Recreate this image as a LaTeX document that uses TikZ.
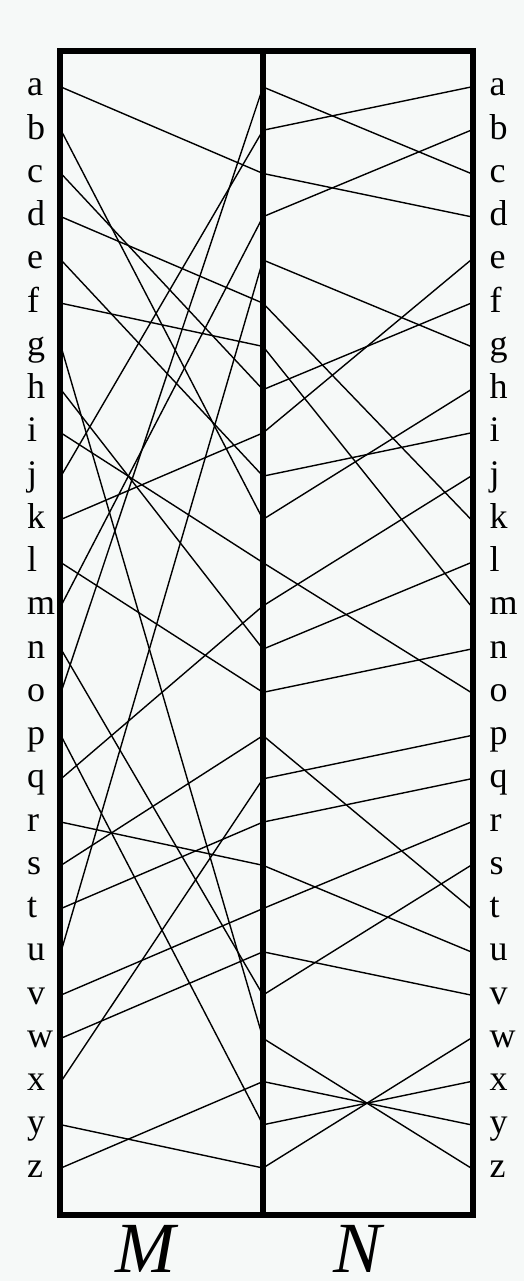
\documentclass[tikz,border=0pt]{standalone}
\usepackage{fontspec}
\setmainfont{Liberation Serif}
\definecolor{paper}{RGB}{246,249,248}

\begin{document}
\begin{tikzpicture}[x=1pt,y=-1pt,
  wire/.style={line width=1.4pt},
  boxline/.style={line width=5.5pt},
  letter/.style={anchor=base west,inner sep=0pt,font=\fontsize{36}{43}\selectfont},
  permname/.style={anchor=base,inner sep=0pt,font=\fontsize{72}{80}\selectfont\itshape}]
  % page and size
  \fill[paper] (0,0) rectangle (524,1281);
  \useasboundingbox (0,0) rectangle (524,1281);

  % letters on both sides, and the end points of the wires
  \foreach \ch [count=\i from 0] in {a,...,z} {
    \pgfmathsetmacro{\yy}{87+43.24*\i}
    \node[letter] (l\ch) at (27,\yy+9) {\ch};
    \node[letter] (r\ch) at (489.5,\yy+9) {\ch};
    \coordinate (L-\ch) at (61,\yy);
    \coordinate (C-\ch) at (263,\yy);
    \coordinate (R-\ch) at (471,\yy);
  }

  % first permutation, M
  \foreach \s/\t in {a/c,b/k,c/h,d/f,e/j,f/g,g/w,h/n,i/l,j/b,k/i,l/o,m/d,
                     n/v,o/a,p/y,q/m,r/s,s/p,t/r,u/e,v/t,w/u,x/q,y/z,z/x}
    \draw[wire] (L-\s) -- (C-\t);

  % second permutation, N
  \foreach \s/\t in {a/c,b/a,c/d,d/b,e/g,f/k,g/m,h/f,i/e,j/i,k/h,l/o,m/j,
                     n/l,o/n,p/t,q/p,r/q,s/u,t/r,u/v,v/s,w/z,x/y,y/x,z/w}
    \draw[wire] (C-\s) -- (R-\t);

  % the two boxes
  \draw[boxline] (60,51) rectangle (473,1215);
  \draw[boxline] (263,51) -- (263,1215);

  \node[permname] (M) at (145,1272) {M};
  \node[permname] (N) at (358,1272) {N};
\end{tikzpicture}
\end{document}
